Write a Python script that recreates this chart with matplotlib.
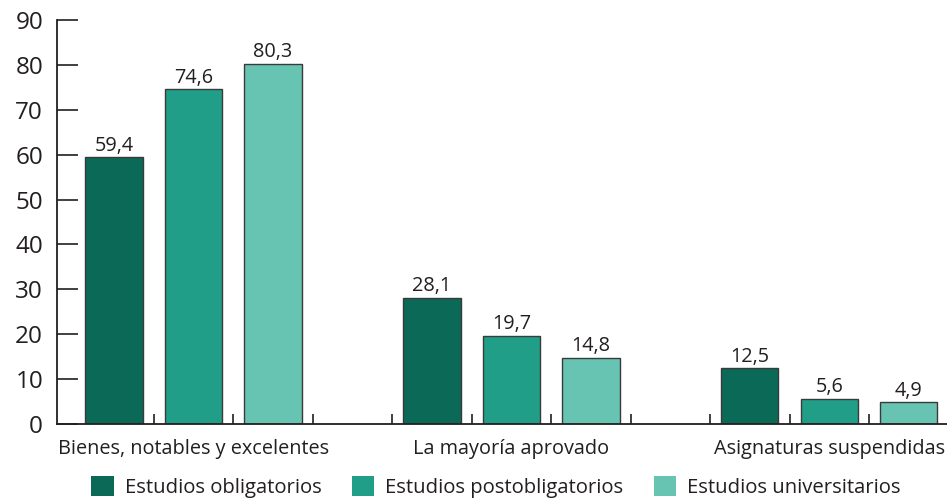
import matplotlib
matplotlib.use("Agg")
from matplotlib import pyplot as plt
from matplotlib.patches import Patch
import numpy as np

categories = ["Bienes, notables y excelentes", "La mayoría aprovado", "Asignaturas suspendidas"]
series_names = ["Estudios obligatorios", "Estudios postobligatorios", "Estudios universitarios"]
obligatorios = [59.4, 28.1, 12.5]
postobligatorios = [74.6, 19.7, 5.6]
universitarios = [80.3, 14.8, 4.9]
yticks = [0, 10, 20, 30, 40, 50, 60, 70, 80, 90]

COLORS = ["#0b6957", "#219e88", "#67c4b3"]
TEXT = "#231f20"
FONT = "Open Sans"

plt.rcParams['font.family'] = [FONT, 'DejaVu Sans']

fig = plt.figure(figsize=(9.47, 4.98), dpi=100)
ax = fig.add_axes([57 / 947, 74 / 498, 890 / 947, 404 / 498])

series = [obligatorios, postobligatorios, universitarios]
n_groups = len(categories)
slot = len(series) + 1
group_start = np.arange(n_groups) * slot

for i, (vals, color, name) in enumerate(zip(series, COLORS, series_names)):
    bars = ax.bar(group_start + i, vals, width=0.72, color=color,
                  edgecolor="#3a3a3a", linewidth=1.0, label=name)
    ax.bar_label(bars, labels=[f"{v:.1f}".replace(".", ",") for v in vals],
                 padding=1, fontsize=14.3, color=TEXT)

ax.set_xlim(-0.717, 10.48)
ax.set_ylim(0, 90)

ax.set_yticks(yticks)
ax.set_yticklabels([str(t) for t in yticks], fontsize=17.5, color=TEXT)
ax.tick_params(axis='y', direction='in', length=15, width=1.2, pad=10, color=TEXT)

ax.set_xticks(group_start + 1)
ax.set_xticklabels(categories, fontsize=14.3, color=TEXT)
ax.tick_params(axis='x', which='major', length=0, pad=11)
boundaries = [b + 0.5 for b in range(0, 10)]
ax.set_xticks(boundaries, minor=True)
ax.tick_params(axis='x', which='minor', direction='in', length=7, width=1.2, color=TEXT)

for s in ['top', 'right']:
    ax.spines[s].set_visible(False)
for s in ['left', 'bottom']:
    ax.spines[s].set_color(TEXT)
    ax.spines[s].set_linewidth(1.3)

handles = [Patch(facecolor=c, edgecolor='none') for c in COLORS]
fig.legend(handles, series_names, loc='center', bbox_to_anchor=(496 / 947, 1 - 487 / 498),
           ncol=3, frameon=False, fontsize=14.6, handlelength=1.1, handleheight=1.1,
           handletextpad=0.55, columnspacing=1.5, labelcolor=TEXT, borderpad=0)

fig.savefig("out.png", dpi=100)
